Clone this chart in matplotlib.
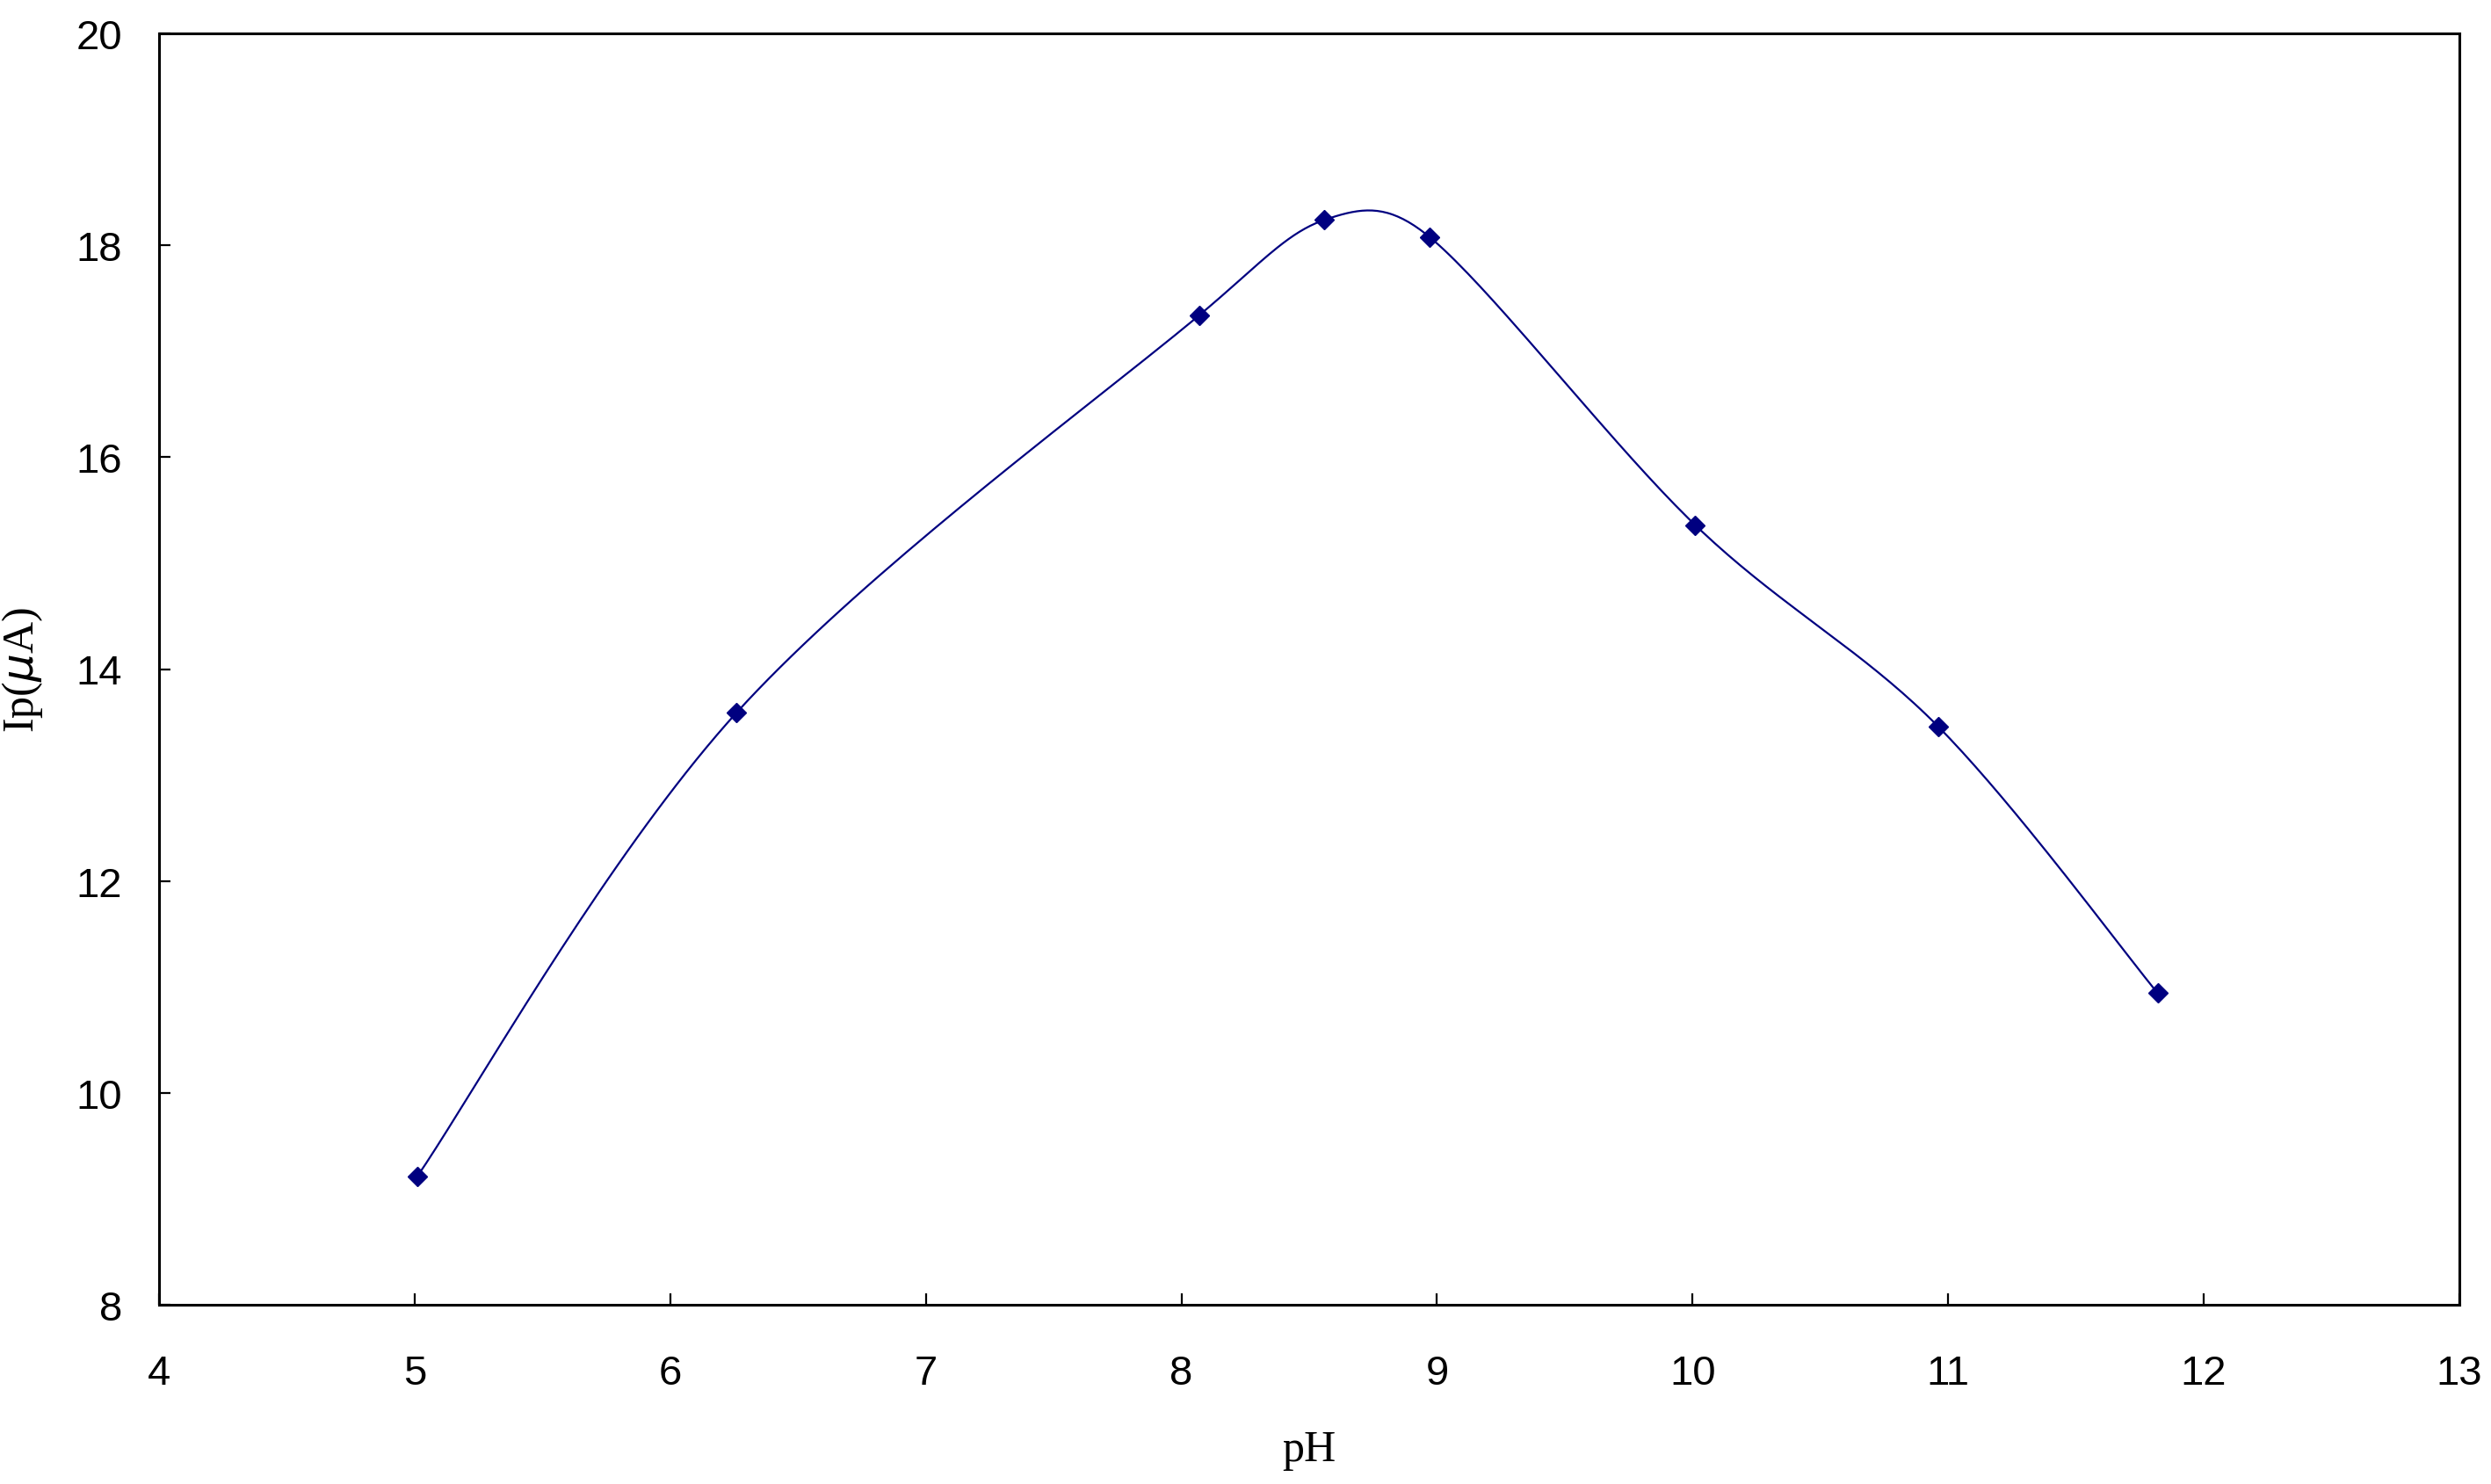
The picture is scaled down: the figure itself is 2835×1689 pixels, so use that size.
import numpy as np
import matplotlib
matplotlib.use("Agg")
import matplotlib.pyplot as plt

# datos
ph = [5.01, 6.26, 8.07, 8.56, 8.97, 10.01, 10.96, 11.82]
ip = [9.21, 13.59, 17.34, 18.24, 18.08, 15.36, 13.46, 10.94]

xmin, xmax, ymin, ymax = 4, 13, 8, 20


def suavizar(x, y, w, h, n=40):
    # curva tipo Excel: Bezier cubica, tangentes tipo Catmull-Rom
    # limitadas a la mitad del segmento vecino
    px = (np.asarray(x) - xmin) / (xmax - xmin) * w
    py = (np.asarray(y) - ymin) / (ymax - ymin) * h
    P = np.column_stack([px, py])
    Q = np.vstack([P[0], P, P[-1]])
    antes, despues = [], []
    for i in range(1, len(Q) - 1):
        T = (Q[i + 1] - Q[i - 1]) / 6
        nt = np.hypot(*T)
        d_prev = np.hypot(*(Q[i] - Q[i - 1]))
        d_next = np.hypot(*(Q[i + 1] - Q[i]))
        sa = min(1, 0.5 * d_prev / nt) if nt > 0 else 0
        sd = min(1, 0.5 * d_next / nt) if nt > 0 else 0
        antes.append(Q[i] - T * sa)
        despues.append(Q[i] + T * sd)
    t = np.linspace(0, 1, n)[:, None]
    out = []
    for i in range(len(P) - 1):
        p1, p2 = P[i], P[i + 1]
        c1, c2 = despues[i], antes[i + 1]
        seg = (1 - t) ** 3 * p1 + 3 * (1 - t) ** 2 * t * c1 + 3 * (1 - t) * t ** 2 * c2 + t ** 3 * p2
        out.append(seg)
    c = np.vstack(out)
    return c[:, 0] / w * (xmax - xmin) + xmin, c[:, 1] / h * (ymax - ymin) + ymin


fig = plt.figure(figsize=(28.35, 16.90), dpi=100)
ax = fig.add_axes([181 / 2835, 1 - 1486 / 1690, (2799 - 181) / 2835, (1486 - 39) / 1690])

sx, sy = suavizar(ph, ip, 2618, 1447)
ax.plot(sx, sy, color='#000080', linewidth=1.6)
ax.plot(ph, ip, linestyle='none', marker='D', markersize=11, color='#000080')

ax.set_xlim(xmin, xmax)
ax.set_ylim(ymin, ymax)
ax.set_xticks(range(4, 14))
ax.set_yticks(range(8, 21, 2))

for s in ax.spines.values():
    s.set_linewidth(2.2)
ax.tick_params(direction='in', length=9.5, width=1.6, labelsize=34)
ax.tick_params(axis='x', pad=40)
ax.tick_params(axis='y', pad=30)
for lab in ax.get_xticklabels() + ax.get_yticklabels():
    lab.set_family('Liberation Sans')

ax.set_xlabel('pH', fontsize=36, family='Liberation Serif', labelpad=30)
ax.set_ylabel('Ip($\\mu$A)', fontsize=36, family='Liberation Serif', labelpad=26)

fig.savefig('out.png', dpi=100, facecolor='white')
